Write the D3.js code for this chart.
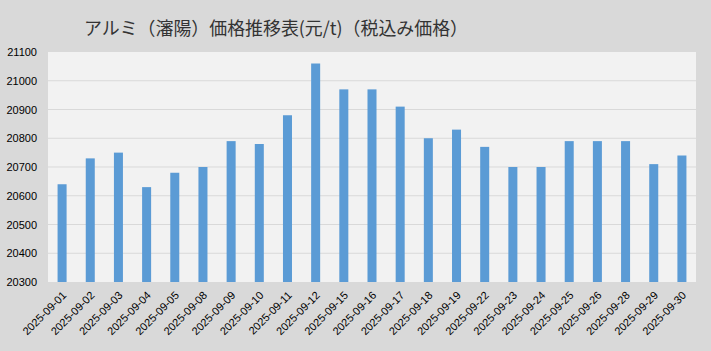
<!DOCTYPE html>
<html>
<head>
<meta charset="utf-8">
<script src="https://cdn.jsdelivr.net/npm/d3@7"></script>
<style>
  body { margin: 0; background: #d9d9d9; }
  text { font-family: "Liberation Sans", "DejaVu Sans", sans-serif; }
</style>
</head>
<body>
<div id="chart"></div>
<script>
var dates = ["2025-09-01","2025-09-02","2025-09-03","2025-09-04","2025-09-05","2025-09-08",
    "2025-09-09","2025-09-10","2025-09-11","2025-09-12","2025-09-15","2025-09-16",
    "2025-09-17","2025-09-18","2025-09-19","2025-09-22","2025-09-23","2025-09-24",
    "2025-09-25","2025-09-26","2025-09-28","2025-09-29","2025-09-30"];
var prices = [20640,20730,20750,20630,20680,20700,20790,20780,20880,21060,20970,20970,
    20910,20800,20830,20770,20700,20700,20790,20790,20790,20710,20740];
var yTicks = [20300,20400,20500,20600,20700,20800,20900,21000,21100];
var title = "アルミ（瀋陽）価格推移表(元/t)（税込み価格）";

function init()
{
    const width = 711;
    const height = 351;
    var left = 48, right = 696, top = 52, bottom = 282;

    var svg = d3.select("#chart")
        .append("svg")
        .attr("width", width)
        .attr("height", height);

    svg.append("rect")
        .attr("width", width)
        .attr("height", height)
        .attr("fill", "#d9d9d9");

    svg.append("rect")
        .attr("x", left)
        .attr("y", top)
        .attr("width", right - left)
        .attr("height", bottom - top)
        .attr("fill", "#f2f2f2");

    var x = d3.scaleBand()
        .domain(dates)
        .range([left, right])
        .paddingInner(0.68)
        .paddingOuter(0.34);

    var y = d3.scaleLinear()
        .domain([20300, 21100])
        .range([bottom, top]);

    // gridlines
    svg.append("g")
        .selectAll("line")
        .data(yTicks.slice(1, -1))
        .enter()
        .append("line")
        .attr("x1", left)
        .attr("x2", right)
        .attr("y1", function(d){ return y(d); })
        .attr("y2", function(d){ return y(d); })
        .attr("stroke", "#d9d9d9")
        .attr("stroke-width", 1);

    svg.append("g")
        .selectAll("rect")
        .data(prices)
        .enter()
        .append("rect")
        .attr("x", function(d, i){ return x(dates[i]); })
        .attr("y", function(d){ return y(d); })
        .attr("width", x.bandwidth())
        .attr("height", function(d){ return bottom - y(d); })
        .attr("fill", "#5b9bd5");

    var yAxis = svg.append("g")
        .attr("transform", "translate(" + left + ",0)")
        .call(d3.axisLeft(y).tickValues(yTicks).tickSize(0).tickPadding(11).tickFormat(d3.format("d")));
    yAxis.select(".domain").remove();
    yAxis.selectAll("text")
        .attr("font-size", 11)
        .attr("fill", "#000")
        .style("font-family", "Liberation Sans, sans-serif");

    var xAxis = svg.append("g")
        .attr("transform", "translate(0," + bottom + ")")
        .call(d3.axisBottom(x).tickSize(0).tickPadding(0));
    xAxis.select(".domain").remove();
    xAxis.selectAll("text")
        .attr("font-size", 11)
        .attr("fill", "#000")
        .attr("text-anchor", "end")
        .attr("dy", 0)
        .attr("y", 0)
        .attr("transform", "translate(5,14) rotate(-45)")
        .style("font-family", "Liberation Sans, sans-serif");

    svg.append("text")
        .attr("x", 84)
        .attr("y", 35)
        .attr("font-size", 18)
        .attr("fill", "#333")
        .attr("textLength", 384)
        .attr("lengthAdjust", "spacingAndGlyphs")
        .style("font-family", "'Noto Sans CJK JP', sans-serif")
        .text(title);
}

init();
</script>
</body>
</html>
